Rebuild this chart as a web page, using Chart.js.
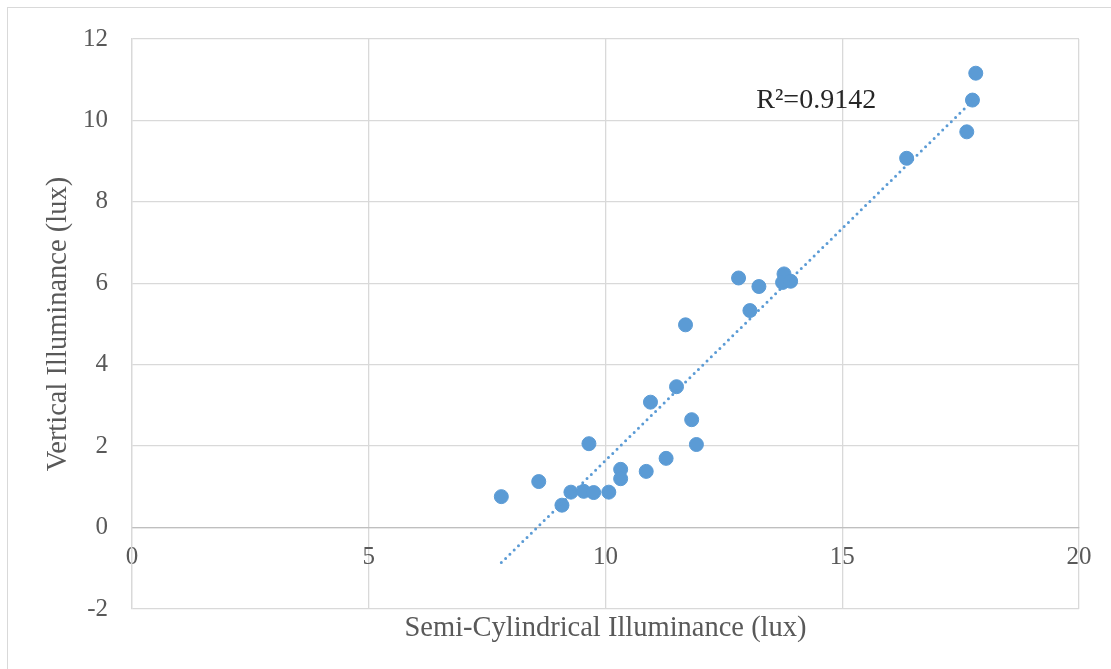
<!DOCTYPE html>
<html>
<head>
<meta charset="utf-8">
<script src="https://cdn.jsdelivr.net/npm/chart.js@4.4.1/dist/chart.umd.min.js"></script>
<style>
html,body{margin:0;padding:0;background:#fff;overflow:hidden}
#frame{position:absolute;left:7px;top:7px;width:1130px;height:690px;border:1px solid #d9d9d9}
#wrap{position:absolute;left:0;top:0;width:1111px;height:669px}
</style>
</head>
<body>
<div id="frame"></div>
<div id="wrap"><canvas id="chartarea"></canvas></div>
<script>
// values
const semiCyl=[7.80,8.59,9.08,9.27,9.54,9.65,9.75,10.07,10.32,10.32,10.86,10.95,11.28,11.50,11.69,11.82,11.92,12.81,13.05,13.24,13.77,13.74,13.91,16.36,17.63,17.75,17.82];
const vertical=[0.76,1.13,0.55,0.87,0.89,2.06,0.86,0.87,1.43,1.20,1.38,3.08,1.70,3.46,4.98,2.65,2.04,6.13,5.33,5.92,6.23,6.02,6.05,9.07,9.72,10.50,11.16];
const trendX=[7.80,17.82];
const trendY=[-0.86,10.56];
const rSquared="R\u00B2=0.9142";

const blue="#5B9BD5";
const grey="#595959";
const serif="'Liberation Serif', 'Times New Roman', serif";

const points=semiCyl.map((x,i)=>({x:x,y:vertical[i]}));
const trend=trendX.map((x,i)=>({x:x,y:trendY[i]}));

// R² text next to the trendline
const rLabel={
  id:"rLabel",
  afterDatasetsDraw(chart){
    const c=chart.ctx;
    const px=chart.scales.x.getPixelForValue(14.45);
    const py=chart.scales.y.getPixelForValue(10.49);
    c.save();
    c.font="28px "+serif;
    c.fillStyle="#262626";
    c.textAlign="center";
    c.textBaseline="middle";
    c.fillText(rSquared,px,py);
    c.restore();
  }
};

new Chart(document.querySelector("#chartarea"),{
  type:"scatter",
  data:{
    datasets:[
      {
        label:"trend",
        data:trend,
        showLine:true,
        borderColor:blue,
        borderWidth:3,
        borderDash:[0,6],
        borderCapStyle:"round",
        pointRadius:0,
        order:0
      },
      {
        label:"data",
        data:points,
        backgroundColor:blue,
        borderColor:blue,
        borderWidth:1,
        pointRadius:7,
        order:1
      }
    ]
  },
  plugins:[rLabel],
  options:{
    responsive:true,
    maintainAspectRatio:false,
    animation:false,
    layout:{padding:{top:30,right:32,bottom:0,left:0}},
    plugins:{legend:{display:false},tooltip:{enabled:false}},
    scales:{
      x:{
        type:"linear",
        position:{y:0},
        min:0,max:20,
        ticks:{stepSize:5,maxRotation:0,padding:15,color:grey,font:{family:serif,size:25}},
        grid:{color:"#d9d9d9",drawTicks:false,lineWidth:1.3},
        border:{color:"#bfbfbf",width:1.3}
      },
      xt:{
        type:"linear",
        position:"bottom",
        min:0,max:20,
        ticks:{display:false},
        grid:{display:false},
        border:{display:false},
        title:{display:true,text:"Semi-Cylindrical Illuminance (lux)",color:grey,font:{family:serif,size:28.5},padding:{top:0,bottom:23}},
        afterFit(s){s.height=60;}
      },
      y:{
        type:"linear",
        min:-2,max:12,
        ticks:{stepSize:2,padding:24,color:grey,font:{family:serif,size:25}},
        grid:{color:"#d9d9d9",drawTicks:false,lineWidth:1.3},
        border:{color:"#d9d9d9",width:1.3},
        title:{display:true,text:"Vertical Illuminance (lux)",color:grey,font:{family:serif,size:28.5},padding:{top:41,bottom:0}},
        afterFit(s){s.width=132;}
      }
    }
  }
});
</script>
</body>
</html>
